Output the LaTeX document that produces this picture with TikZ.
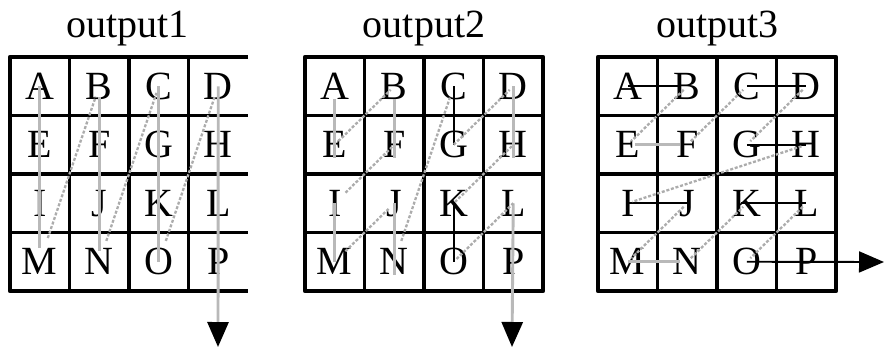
\documentclass[tikz,border=0pt]{standalone}
\usepackage{fontspec}
\setmainfont{Liberation Serif}
\usetikzlibrary{arrows.meta}

\begin{document}
\begin{tikzpicture}[x=1pt,y=-1pt,
      letter/.style={font=\fontsize{40}{40}\selectfont,inner sep=0pt,
                     text height=26pt,text depth=0pt,anchor=center},
      titletext/.style={font=\fontsize{40}{40}\selectfont,inner sep=0pt,anchor=base},
      gridline/.style={line width=3.4pt},
      border/.style={line width=4.6pt,line join=round},
      trace/.style={line width=2.9pt,gray!55},
      darktrace/.style={line width=1.9pt,black},
      jump/.style={line width=2.3pt,gray!65,dash pattern=on 3pt off 1.8pt,
                   shorten <=5pt,shorten >=5pt},
      arr/.style={-{Triangle[length=25pt,width=21pt,color=black]}}]
    \useasboundingbox (0,0) rectangle (886,351);
    \node[titletext] (t1) at (127.5,37) {output1};
    \node[titletext] (t2) at (424,37) {output2};
    \node[titletext] (t3) at (717.5,37) {output3};
    \draw[border] (248,57) -- (10,57) -- (10,291) -- (248,291);
    \foreach \k in {1,2,3} \draw[gridline] (10+59.5*\k,57) -- ++(0,234);
    \foreach \k in {1,2,3} \draw[gridline] (10,57+58.5*\k) -- ++(238,0);
    \foreach \gx in {305,598}{
      \draw[border] (\gx,57) rectangle ++(238,234);
      \foreach \k in {1,2,3} \draw[gridline] (\gx+59.5*\k,57) -- ++(0,234);
      \foreach \k in {1,2,3} \draw[gridline] (\gx,57+58.5*\k) -- ++(238,0);
    }
    \foreach \g/\gx in {1/10,2/305,3/598}{
      \foreach \l [count=\i from 0] in {A,B,C,D,E,F,G,H,I,J,K,L,M,N,O,P}{
        \pgfmathtruncatemacro\c{mod(\i,4)}
        \pgfmathtruncatemacro\r{\i/4}
        \node[letter] (o\g\l) at (\gx+29.75+59.5*\c,86.25+58.5*\r) {\l};
      }
    }
    \coordinate (end1) at (218,347);
    \coordinate (end2) at (512,347);
    \coordinate (end3) at (884,262);
    \draw[trace,shorten >=14pt] (o1A.center) -- (o1M.center);
    \draw[trace,shorten <=11pt,shorten >=11pt] (o1B.center) -- (o1N.center);
    \draw[trace] (o1C.center) -- (o1O.center);
    \draw[trace,arr] (o1D.center) -- (end1);
    \draw[jump,shorten <=25pt,shorten >=11pt] (o1M.center) -- (o1B.center);
    \draw[jump,shorten <=22pt,shorten >=7pt] (o1N.center) -- (o1C.center);
    \draw[jump,shorten <=22pt,shorten >=10pt] (o1O.center) -- (o1D.center);
    \draw[trace] (o2A.south) -- (o2E.south);
    \draw[trace] (o2B.south) -- (o2F.south);
    \draw[darktrace] (o2C.center) -- (o2G.center);
    \draw[trace] (o2D.center) -- (o2H.south);
    \draw[trace] (o2I.center) -- (o2M.center);
    \draw[trace] (o2J.center) -- (o2N.south);
    \draw[darktrace] (o2K.center) -- (o2O.center);
    \draw[trace,arr] (o2L.center) -- (end2);
    \draw[jump] (o2E.center) -- (o2B.center);
    \draw[jump,shorten <=3pt,shorten >=14pt] (o2F.center) -- (o2I.center);
    \draw[jump,shorten <=15pt,shorten >=8pt] (o2M.center) -- (o2J.center);
    \draw[jump,shorten <=22pt,shorten >=12pt] (o2N.center) -- (o2C.center);
    \draw[jump,shorten <=0pt] (o2G.center) -- (o2D.center);
    \draw[jump,shorten <=2pt,shorten >=0pt] (o2H.center) -- (o2K.center);
    \draw[jump,shorten <=4pt,shorten >=0pt] (o2O.center) -- (o2L.center);
    \draw[darktrace,shorten >=7pt] (o3A.center) -- (o3B.center);
    \draw[darktrace] (o3C.center) -- (o3D.center);
    \draw[trace,shorten <=7pt,shorten >=7pt] (o3E.center) -- (o3F.center);
    \draw[darktrace] (o3G.center) -- (o3H.center);
    \draw[darktrace] (o3I.center) -- (o3J.center);
    \draw[darktrace,shorten <=-6pt] (o3K.center) -- (o3L.center);
    \draw[trace,shorten >=7pt] (o3M.center) -- (o3N.center);
    \draw[darktrace,arr] (o3O.center) -- (end3);
    \draw[jump] (o3B.center) -- (o3E.center);
    \draw[jump] (o3F.center) -- (o3C.center);
    \draw[jump] (o3D.center) -- (o3G.center);
    \draw[jump] (o3H.center) -- (o3I.center);
    \draw[jump] (o3J.center) -- (o3M.center);
    \draw[jump] (o3N.center) -- (o3K.center);
    \draw[jump] (o3L.center) -- (o3O.center);
\end{tikzpicture}
\end{document}
